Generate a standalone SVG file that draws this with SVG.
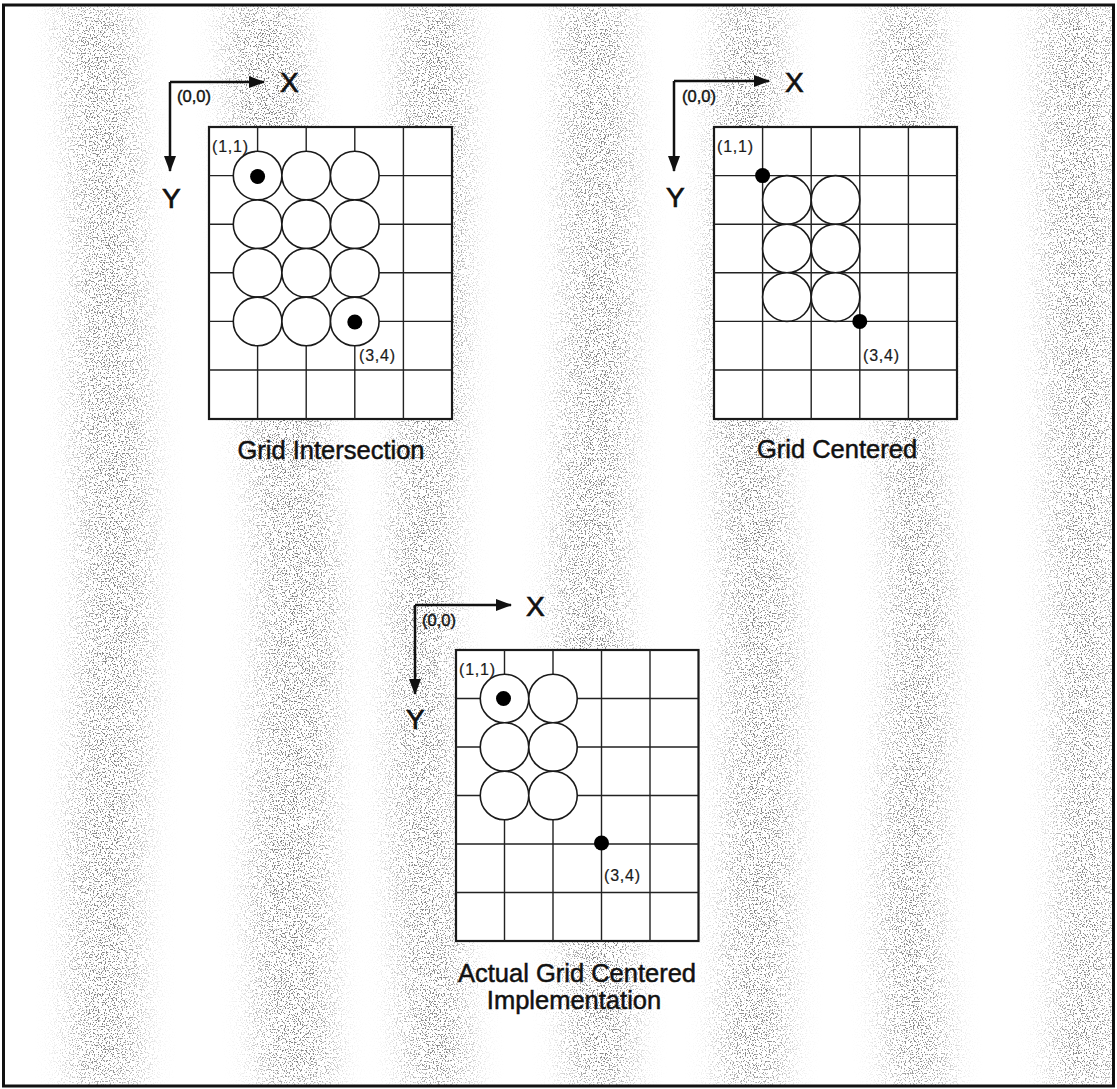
<svg xmlns="http://www.w3.org/2000/svg" width="1117" height="1089" viewBox="0 0 1117 1089">
<defs>
<style>
.grid{fill:#fff;stroke:#1a1a1a;stroke-width:2.2}
.gl{fill:none;stroke:#222;stroke-width:1.4}
.circ{fill:#fff;stroke:#1a1a1a;stroke-width:1.6}
.dot{fill:#000}
.axis{fill:none;stroke:#111;stroke-width:2.5;marker-end:url(#ah)}
.coord{font-family:"Liberation Sans",Arial,sans-serif;font-size:16px;fill:#1a1a1a;stroke:#1a1a1a;stroke-width:0.2;letter-spacing:0.8px}
.orig{font-family:"Liberation Sans",Arial,sans-serif;font-size:16.5px;fill:#111;stroke:#111;stroke-width:0.4}
.ax{font-family:"Liberation Sans",Arial,sans-serif;font-size:28px;fill:#111;stroke:#111;stroke-width:0.7}
.title{font-family:"Liberation Sans",Arial,sans-serif;font-size:25.5px;fill:#111;stroke:#111;stroke-width:0.5;text-anchor:middle}
.band{fill:#000}
</style>
<marker id="ah" markerUnits="userSpaceOnUse" markerWidth="16" markerHeight="12" refX="15" refY="6" orient="auto">
<path d="M0,0 L16,6 L0,12 z" fill="#111"/>
</marker>
<filter id="stip" filterUnits="userSpaceOnUse" x="0" y="0" width="1117" height="1089" color-interpolation-filters="sRGB">
<feGaussianBlur in="SourceAlpha" stdDeviation="16" result="band"/>
<feTurbulence type="fractalNoise" baseFrequency="0.75" numOctaves="1" seed="7" result="noise"/>
<feColorMatrix in="noise" type="matrix" values="0 0 0 0 0.42  0 0 0 0 0.42  0 0 0 0 0.42  14 0 0 0 -7.8" result="dots"/>
<feComposite in="dots" in2="band" operator="in"/>
</filter>
<clipPath id="frame"><rect x="4" y="6" width="1108" height="1079"/></clipPath>
</defs>
<rect x="0" y="0" width="1117" height="1089" fill="#fff"/>
<g id="background" clip-path="url(#frame)">
<g filter="url(#stip)" opacity="0.85">
<path class="band" d="M60,0 C70,150 80,250 75,300 C70,450 85,520 80,600 C75,750 70,820 70,900 C70,1000 72,1050 70,1089 L140,1089 C142,1050 140,1000 140,900 C142,820 150,750 150,600 C152,520 148,450 145,300 C142,250 140,150 130,0 Z"/>
<path class="band" d="M225,0 C230,150 240,250 240,300 C245,450 255,520 260,600 C255,750 250,820 250,900 C255,1000 258,1050 260,1089 L335,1089 C333,1050 330,1000 330,900 C330,820 335,750 340,600 C335,520 325,450 320,300 C320,250 310,150 300,0 Z"/>
<path class="band" d="M400,0 C398,150 395,250 398,300 C400,450 392,520 390,600 C388,750 392,820 395,900 C400,1000 405,1050 405,1089 L470,1089 C470,1050 465,1000 460,900 C455,820 452,750 452,600 C455,520 462,450 465,300 C465,250 468,150 470,0 Z"/>
<path class="band" d="M560,0 C562,150 565,250 565,300 C562,450 555,520 555,600 C560,750 565,820 565,900 C565,1000 568,1050 568,1089 L632,1089 C632,1050 635,1000 635,900 C635,820 630,750 625,600 C625,520 632,450 635,300 C635,250 632,150 628,0 Z"/>
<path class="band" d="M718,0 C715,150 710,250 710,300 C715,450 722,520 725,600 C728,750 725,820 725,900 C722,1000 720,1050 720,1089 L785,1089 C785,1050 788,1000 792,900 C795,820 795,750 795,600 C790,520 782,450 775,300 C775,250 780,150 782,0 Z"/>
<path class="band" d="M878,0 C878,150 875,250 875,300 C880,450 888,520 890,600 C888,750 880,820 880,900 C882,1000 888,1050 890,1089 L950,1089 C948,1050 942,1000 940,900 C942,820 950,750 950,600 C948,520 938,450 935,300 C935,250 938,150 940,0 Z"/>
<path class="band" d="M1040,0 C1042,150 1045,250 1045,300 C1048,450 1050,520 1052,600 C1055,750 1055,820 1058,900 C1055,1000 1052,1050 1052,1089 L1117,1089 L1117,0 Z"/>
</g>
</g>
<rect id="frame-border" x="3.5" y="5" width="1110" height="1081" fill="none" stroke="#111" stroke-width="3"/>

<g id="connectors">
<path class="axis" d="M170,82 H264"/>
<path class="axis" d="M170,82 V171"/>
<path class="axis" d="M674,81 H769"/>
<path class="axis" d="M674,81 V171"/>
<path class="axis" d="M415,605 H511"/>
<path class="axis" d="M415,605 V694"/>
</g>

<g id="axes-grid-intersection">
<text class="ax" x="280" y="92">X</text>
<text class="ax" x="162" y="208">Y</text>
<text class="orig" x="177" y="102">(0,0)</text>
</g>
<g id="axes-grid-centered">
<text class="ax" x="785" y="92">X</text>
<text class="ax" x="666" y="207">Y</text>
<text class="orig" x="682" y="102">(0,0)</text>
</g>
<g id="axes-actual">
<text class="ax" x="526" y="616">X</text>
<text class="ax" x="406" y="729">Y</text>
<text class="orig" x="422" y="626">(0,0)</text>
</g>

<g id="grid-intersection">
<rect class="grid" x="209" y="127" width="243" height="292"/>
<path class="gl" d="M257.6,127V419 M306.2,127V419 M354.8,127V419 M403.4,127V419 M209,175.6H452 M209,224.2H452 M209,272.8H452 M209,321.4H452 M209,370H452"/>
<circle class="circ" cx="257.6" cy="175.6" r="24.3"/>
<circle class="circ" cx="306.2" cy="175.6" r="24.3"/>
<circle class="circ" cx="354.8" cy="175.6" r="24.3"/>
<circle class="circ" cx="257.6" cy="224.2" r="24.3"/>
<circle class="circ" cx="306.2" cy="224.2" r="24.3"/>
<circle class="circ" cx="354.8" cy="224.2" r="24.3"/>
<circle class="circ" cx="257.6" cy="272.8" r="24.3"/>
<circle class="circ" cx="306.2" cy="272.8" r="24.3"/>
<circle class="circ" cx="354.8" cy="272.8" r="24.3"/>
<circle class="circ" cx="257.6" cy="321.4" r="24.3"/>
<circle class="circ" cx="306.2" cy="321.4" r="24.3"/>
<circle class="circ" cx="354.8" cy="321.4" r="24.3"/>
<circle class="dot" cx="257.6" cy="176.5" r="7.5"/>
<circle class="dot" cx="354.8" cy="322" r="7.5"/>
<text class="coord" x="212" y="152">(1,1)</text>
<text class="coord" x="359" y="361">(3,4)</text>
</g>
<g id="label-grid-intersection"><text class="title" x="331" y="459">Grid Intersection</text></g>

<g id="grid-centered">
<rect class="grid" x="714" y="127" width="243" height="292"/>
<path class="gl" d="M762.6,127V419 M811.2,127V419 M859.8,127V419 M908.4,127V419 M714,175.6H957 M714,224.2H957 M714,272.8H957 M714,321.4H957 M714,370H957"/>
<circle class="circ" cx="786.9" cy="199.9" r="24.3"/>
<circle class="circ" cx="835.5" cy="199.9" r="24.3"/>
<circle class="circ" cx="786.9" cy="248.5" r="24.3"/>
<circle class="circ" cx="835.5" cy="248.5" r="24.3"/>
<circle class="circ" cx="786.9" cy="297.1" r="24.3"/>
<circle class="circ" cx="835.5" cy="297.1" r="24.3"/>
<circle class="dot" cx="762.6" cy="175.6" r="7.5"/>
<circle class="dot" cx="859.8" cy="321.4" r="7.5"/>
<text class="coord" x="717" y="152">(1,1)</text>
<text class="coord" x="863" y="361">(3,4)</text>
</g>
<g id="label-grid-centered"><text class="title" x="837" y="458">Grid Centered</text></g>

<g id="grid-actual">
<rect class="grid" x="456" y="650" width="242.5" height="291"/>
<path class="gl" d="M504.5,650V941 M553,650V941 M601.5,650V941 M650,650V941 M456,698.5H698.5 M456,747H698.5 M456,795.5H698.5 M456,844H698.5 M456,892.5H698.5"/>
<circle class="circ" cx="504.5" cy="698.5" r="24.25"/>
<circle class="circ" cx="553" cy="698.5" r="24.25"/>
<circle class="circ" cx="504.5" cy="747" r="24.25"/>
<circle class="circ" cx="553" cy="747" r="24.25"/>
<circle class="circ" cx="504.5" cy="795.5" r="24.25"/>
<circle class="circ" cx="553" cy="795.5" r="24.25"/>
<circle class="dot" cx="503.5" cy="698.5" r="7.5"/>
<circle class="dot" cx="601.5" cy="843" r="7.5"/>
<text class="coord" x="459" y="675">(1,1)</text>
<text class="coord" x="604" y="881">(3,4)</text>
</g>
<g id="label-actual">
<text class="title" x="577" y="982">Actual Grid Centered</text>
<text class="title" x="574" y="1009">Implementation</text>
</g>
</svg>
